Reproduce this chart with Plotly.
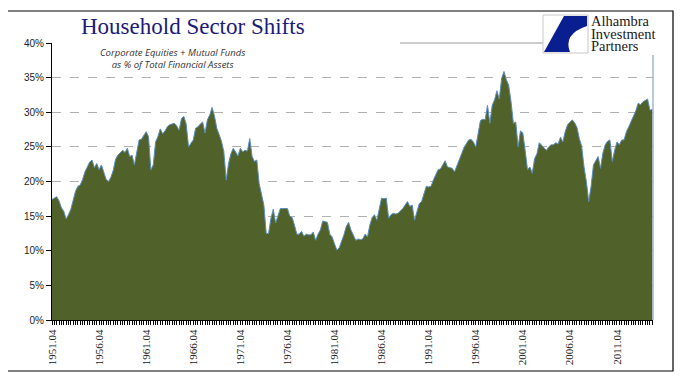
import plotly.graph_objects as go

# ---- data (quarterly, 1951 Q4 onward) ----
share_pct = [
    17.4, 17.6, 17.8, 17.2, 16.2, 15.7, 14.6, 15.2, 16.0, 17.3,
    18.6, 19.3, 19.5, 20.3, 21.4, 22.1, 22.8, 23.1, 22.0, 22.6,
    21.7, 22.4, 21.3, 20.3, 20.0, 20.6, 21.6, 23.2, 23.8, 24.2,
    24.5, 24.2, 24.8, 23.6, 23.8, 22.4, 24.5, 26.0, 26.1, 26.6,
    27.2, 26.5, 21.7, 22.4, 25.7, 26.5, 27.6, 26.9, 27.3, 27.9,
    28.2, 28.3, 28.4, 28.0, 27.4, 29.1, 29.4, 28.3, 25.0, 25.5,
    26.0, 27.7, 27.9, 28.3, 28.6, 27.0, 28.9, 29.6, 30.7, 29.5,
    27.7, 26.8, 25.8, 24.3, 20.2, 22.6, 24.0, 24.8, 24.3, 23.7,
    24.8, 24.3, 24.5, 24.4, 26.2, 23.6, 22.9, 23.1, 19.7, 18.3,
    16.6, 12.5, 12.5, 14.7, 16.0, 14.0, 14.9, 16.1, 16.1, 16.1,
    16.1, 15.0, 14.8, 13.7, 12.4, 12.4, 12.8, 12.1, 12.4, 12.3,
    12.3, 12.7, 11.5, 12.4, 13.0, 14.3, 14.2, 14.1, 12.4, 12.0,
    11.0, 10.1, 10.4, 11.3, 12.3, 13.5, 14.1, 13.0, 12.3, 11.5,
    11.7, 11.6, 11.7, 12.4, 12.0, 13.7, 14.8, 15.2, 14.4, 16.0,
    17.6, 17.5, 17.6, 14.7, 15.2, 15.4, 15.3, 15.4, 15.7, 16.1,
    16.6, 17.1, 16.4, 16.6, 14.4, 15.6, 16.8, 17.1, 18.4, 19.3,
    19.2, 19.3, 20.2, 20.9, 21.7, 21.8, 22.4, 23.0, 22.1, 22.0,
    21.9, 21.4, 22.2, 23.1, 24.0, 24.9, 25.5, 26.0, 26.1, 25.7,
    25.0, 27.0, 28.8, 29.0, 28.9, 31.0, 28.4, 31.0, 31.8, 33.1,
    31.9, 34.9, 35.9, 34.7, 33.9, 31.5, 28.4, 28.6, 25.0, 27.3,
    27.0, 24.5, 21.7, 22.1, 21.2, 23.3, 24.0, 25.6, 25.2, 24.9,
    24.5, 25.0, 25.3, 25.3, 25.6, 25.4, 26.4, 25.7, 27.2, 28.2,
    28.6, 28.9, 28.5, 27.8, 26.2, 25.1, 22.1, 20.0, 17.1, 19.3,
    22.4, 23.1, 23.6, 21.9, 24.1, 25.3, 25.8, 26.0, 22.9, 24.5,
    25.7, 25.3, 26.0, 26.0, 27.2, 27.9, 28.6, 29.5, 30.2, 31.3,
    31.1, 31.5, 31.7, 31.9, 30.3, 30.4,
]
tick_labels = ["1951.04", "1956.04", "1961.04", "1966.04", "1971.04", "1976.04",
               "1981.04", "1986.04", "1991.04", "1996.04", "2001.04", "2006.04",
               "2011.04"]
tick_step_quarters = 20
y_ticks = [0, 5, 10, 15, 20, 25, 30, 35, 40]
logo_lines = ["Alhambra", "Investment", "Partners"]

quarter_index = list(range(len(share_pct)))
share_frac = [v / 100.0 for v in share_pct]
tick_vals = [i * tick_step_quarters for i in range(len(tick_labels))]

# page body has an 8px default margin: work in reference pixels, shift by 8
OFF = 8
W, H = 687 - OFF, 381 - OFF
L, R, T, B = 52, 653, 43, 320  # plot area in reference pixels


def px(x):
    return (x - L) / (R - L)


def py(y):
    return (B - y) / (B - T)


fig = go.Figure()
fig.add_trace(go.Scatter(
    x=quarter_index, y=share_frac, mode="lines",
    line=dict(color="#5b8cc0", width=1),
    fill="tozeroy", fillcolor="#506229",
    hoverinfo="skip", showlegend=False,
))

shapes = []
# outer frame
shapes.append(dict(type="rect", xref="paper", yref="paper",
                   x0=px(7), x1=px(673), y0=py(371), y1=py(11),
                   line=dict(color="#000000", width=1.2), layer="below"))
# partial plot border (top right / right side)
shapes.append(dict(type="line", xref="paper", yref="paper",
                   x0=px(400), x1=px(543), y0=py(43), y1=py(43),
                   line=dict(color="#9a9a9a", width=1)))
shapes.append(dict(type="line", xref="paper", yref="paper",
                   x0=px(653), x1=px(653), y0=py(55), y1=py(320),
                   line=dict(color="#8aa4c4", width=1.2)))
# logo box
shapes.append(dict(type="rect", xref="paper", yref="paper",
                   x0=px(543), x1=px(588), y0=py(53), y1=py(15),
                   line=dict(color="#c8c8c8", width=1), fillcolor="#ffffff"))

# logo mark (navy sail with white swoosh)
logo_path = ("M {a},{b} L {c},{b} L {c},{d} Q {e},{f} {g},{h} L {i},{h} Z").format(
    a="%.4f" % px(564), b="%.4f" % py(16),
    c="%.4f" % px(587), d="%.4f" % py(26),
    e="%.4f" % px(563), f="%.4f" % py(34),
    g="%.4f" % px(570), h="%.4f" % py(52),
    i="%.4f" % px(544))
shapes.append(dict(type="path", xref="paper", yref="paper", path=logo_path,
                   fillcolor="#0a1f8f", line=dict(width=0)))

annotations = [
    dict(text="Household Sector Shifts", xref="paper", yref="paper",
         x=px(193), y=py(26), xanchor="center", yanchor="middle", showarrow=False,
         font=dict(family="Liberation Serif, Times New Roman, serif", size=23,
                   color="#1b1b78")),
    dict(text="<i>Corporate Equities + Mutual Funds</i><br><i>as % of Total Financial Assets</i>",
         xref="paper", yref="paper", x=px(172), y=py(58), xanchor="center",
         yanchor="middle", showarrow=False, align="center",
         font=dict(family="Open Sans, DejaVu Sans, sans-serif", size=9.5,
                   color="#333333")),
]
for k, line in enumerate(logo_lines):
    annotations.append(dict(
        text=line, xref="paper", yref="paper",
        x=px(590), y=py(21.0 + 12.6 * k), xanchor="left", yanchor="middle",
        showarrow=False, borderpad=0,
        font=dict(family="Liberation Serif, Times New Roman, serif", size=14.5,
                  color="#1a1a1a")))

fig.update_layout(
    width=W, height=H,
    margin=dict(l=L - OFF, r=(687 - R), t=T - OFF, b=(381 - B), pad=0, autoexpand=False),
    paper_bgcolor="#ffffff", plot_bgcolor="#ffffff",
    shapes=shapes, annotations=annotations,
    xaxis=dict(
        range=[0, len(share_pct) - 1 + 0.3],
        tickmode="array", tickvals=tick_vals, ticktext=tick_labels,
        tickangle=-90, ticks="outside", ticklen=4, tickcolor="#000000",
        tickfont=dict(family="Liberation Serif, Times New Roman, serif", size=11,
                      color="#222222"),
        showline=True, linecolor="#000000", linewidth=1,
        showgrid=False, zeroline=False,
        minor=dict(dtick=1, tick0=0, ticks="outside", ticklen=4,
                   tickcolor="#000000", showgrid=False),
    ),
    yaxis=dict(
        range=[0, 0.40], tickmode="array", tickvals=[v / 100 for v in y_ticks],
        tickformat=".0%", ticks="outside", ticklen=5, tickcolor="#000000",
        tickfont=dict(family="Liberation Sans, Arial, sans-serif", size=10,
                      color="#222222"),
        showline=True, linecolor="#000000", linewidth=1,
        showgrid=True, gridcolor="#b0b0b0", griddash="dash", gridwidth=1,
        zeroline=False,
    ),
)

fig.write_html("out.html")
